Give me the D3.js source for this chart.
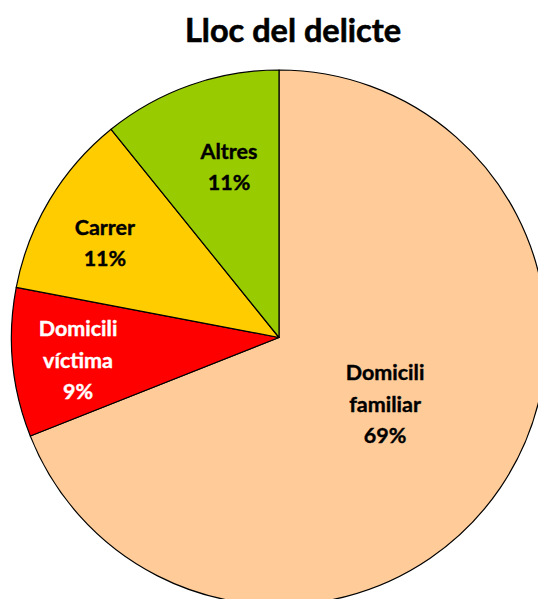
<!DOCTYPE html>
<html><head><meta charset="utf-8">
<script src="https://cdn.jsdelivr.net/npm/d3@7"></script>
<style>body{margin:0;background:#fff;}svg{display:block;font-family:Lato, "Open Sans", sans-serif;}</style>
</head><body>
<svg id="c" width="538" height="599"></svg>
<script>
const categories = ["Domicili familiar", "Domicili víctima", "Carrer", "Altres"];
const labelLines = [["Domicili","familiar"], ["Domicili","víctima"], ["Carrer"], ["Altres"]];
const values = [69, 9, 11.2, 10.8];
const pctLabels = ["69%", "9%", "11%", "11%"];
const colors = ["#FFCC99", "#FF0000", "#FFCC00", "#99CC00"];
const textColors = ["#000", "#fff", "#000", "#000"];
// label placement (fraction of radius, angle shift in degrees from slice middle)
const labelRadius = [0.468, 0.756, 0.741, 0.664];
const labelAngleShift = [-2.1, -1.0, -2.4, 3.1];

const svg = d3.select("#c");
const cx = 279, cy = 337.5, R = 267.5;
svg.append("text").attr("x", 293).attr("y", 42).attr("text-anchor","middle")
  .attr("font-size", 32.5).attr("font-weight", "bold")
  .attr("stroke", "#000").attr("stroke-width", 0.6).text("Lloc del delicte");

const pie = d3.pie().sort(null).value(d => d)(values);
const arc = d3.arc().innerRadius(0).outerRadius(R);
const g = svg.append("g").attr("transform", `translate(${cx},${cy})`);
g.selectAll("path").data(pie).join("path")
  .attr("d", arc).attr("fill", (d,i) => colors[i])
  .attr("stroke", "#000").attr("stroke-width", 1.2).attr("stroke-linejoin","round");

pie.forEach((d, i) => {
  const a = (d.startAngle + d.endAngle) / 2 + labelAngleShift[i] * Math.PI / 180;
  const r = R * labelRadius[i];
  const x = Math.sin(a) * r, y = -Math.cos(a) * r;
  const lines = labelLines[i].concat([pctLabels[i]]);
  const lh = 31.5;
  const t = g.append("text").attr("text-anchor", "middle").attr("font-size", 21.5)
    .attr("font-weight", "bold").attr("fill", textColors[i])
    .attr("stroke", textColors[i]).attr("stroke-width", 0.4);
  lines.forEach((l, k) => {
    t.append("tspan").attr("x", x).attr("y", y + (k - (lines.length - 1) / 2) * lh).attr("dy", "0.35em").text(l);
  });
});
</script>
</body></html>
